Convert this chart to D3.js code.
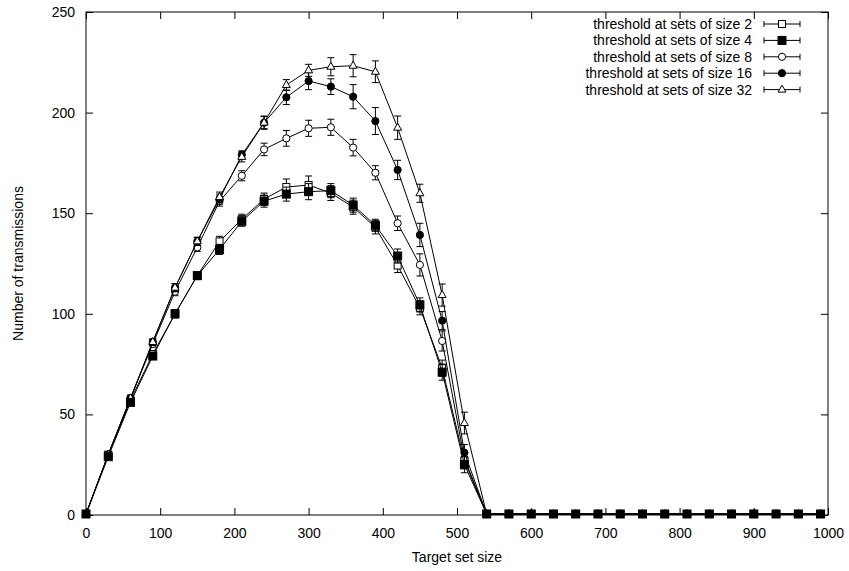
<!DOCTYPE html>
<html>
<head>
<meta charset="utf-8">
<script src="https://cdn.jsdelivr.net/npm/d3@7"></script>
<style>
  body { margin: 0; background: #fff; }
  text { font-family: "Liberation Sans", Arial, sans-serif; }
</style>
</head>
<body>
<div id="chart-area"></div>
<script>
// target set sizes (x)
var targetSizes = [0, 30, 60, 90, 120, 150, 180, 210, 240, 270, 300, 330, 360, 390, 420, 450, 480, 510,
    540, 570, 600, 630, 660, 690, 720, 750, 780, 810, 840, 870, 900, 930, 960, 990];

// mean number of transmissions for each threshold
var size2 = [0.5, 30, 57, 80, 100, 119, 136, 147, 157, 163, 164, 160, 153, 143, 124, 103, 73, 27,
    0.5, 0.5, 0.5, 0.5, 0.5, 0.5, 0.5, 0.5, 0.5, 0.5, 0.5, 0.5, 0.5, 0.5, 0.5, 0.5];
var size4 = [0.5, 29, 56, 79, 100, 119, 132, 146, 156, 159.5, 160.7, 161.2, 154, 144, 128.7, 104.4, 71, 25,
    0.5, 0.5, 0.5, 0.5, 0.5, 0.5, 0.5, 0.5, 0.5, 0.5, 0.5, 0.5, 0.5, 0.5, 0.5, 0.5];
var size8 = [0.5, 30, 58, 85, 111, 133, 156, 168.6, 181.7, 187.2, 192.2, 192.7, 182.6, 170.1, 145, 124.3, 86.5, 28,
    0.5, 0.5, 0.5, 0.5, 0.5, 0.5, 0.5, 0.5, 0.5, 0.5, 0.5, 0.5, 0.5, 0.5, 0.5, 0.5];
var size16 = [0.5, 30, 58, 86, 113, 136, 157, 179, 195, 207.6, 215.7, 212.9, 207.9, 195.8, 171.5, 139.2, 96.6, 31,
    0.5, 0.5, 0.5, 0.5, 0.5, 0.5, 0.5, 0.5, 0.5, 0.5, 0.5, 0.5, 0.5, 0.5, 0.5, 0.5];
var size32 = [0.5, 30, 58, 86, 113, 136, 158, 178, 195, 213.7, 221, 222.8, 223.3, 220.3, 192.5, 159.9, 109.3, 45.7,
    0.5, 0.5, 0.5, 0.5, 0.5, 0.5, 0.5, 0.5, 0.5, 0.5, 0.5, 0.5, 0.5, 0.5, 0.5, 0.5];

// error bar half lengths
var err2 = [0, 1, 1.5, 1.5, 2, 2, 2.5, 2.5, 3, 4, 4.5, 3.7, 3.5, 3.3, 3.5, 3.5, 4, 4,
    0, 0, 0, 0, 0, 0, 0, 0, 0, 0, 0, 0, 0, 0, 0, 0];
var err4 = [0, 1, 1.5, 1.5, 2, 2, 2.5, 2.5, 3, 3.5, 4, 3.5, 3.5, 3, 3.5, 3.5, 4, 4,
    0, 0, 0, 0, 0, 0, 0, 0, 0, 0, 0, 0, 0, 0, 0, 0];
var err8 = [0, 1, 1.5, 1.5, 2, 2, 2.5, 2.5, 3.1, 3.9, 4, 4, 4.1, 3.5, 3.6, 5.5, 5, 4,
    0, 0, 0, 0, 0, 0, 0, 0, 0, 0, 0, 0, 0, 0, 0, 0];
var err16 = [0, 1, 1.5, 1.5, 2, 2, 2.5, 2, 3.3, 3.6, 4.3, 3.9, 6, 6.7, 4.8, 5.8, 4.5, 4,
    0, 0, 0, 0, 0, 0, 0, 0, 0, 0, 0, 0, 0, 0, 0, 0];
var err32 = [0, 1, 1.5, 1.5, 2, 2, 2.5, 2.5, 3, 2.7, 3, 4.5, 5.5, 5.4, 5.8, 4.5, 5.5, 5.4,
    0, 0, 0, 0, 0, 0, 0, 0, 0, 0, 0, 0, 0, 0, 0, 0];

var seriesNames = ["threshold at sets of size 2", "threshold at sets of size 4",
    "threshold at sets of size 8", "threshold at sets of size 16", "threshold at sets of size 32"];
var seriesMarkers = ["squareOpen", "squareFilled", "circleOpen", "circleFilled", "triangleOpen"];

var xTicks = [0, 100, 200, 300, 400, 500, 600, 700, 800, 900, 1000];
var yTicks = [0, 50, 100, 150, 200, 250];

var margin = { left: 86, right: 21, top: 12, bottom: 56 };
var width = 849 - margin.left - margin.right,
    height = 571 - margin.top - margin.bottom;

var svg = d3.select("#chart-area")
    .append("svg")
        .attr("width", 849)
        .attr("height", 571);

var g = svg.append("g")
    .attr("transform", "translate(" + margin.left + ", " + margin.top + ")");

var xScale = d3.scaleLinear().domain([0, 1000]).range([0, width]);
var yScale = d3.scaleLinear().domain([0, 250]).range([height, 0]);

// axes, ticks pointing inward on all four sides
function styleAxis(sel) {
    sel.select(".domain").remove();
    sel.selectAll(".tick line").attr("stroke", "#000");
    sel.selectAll(".tick text")
        .attr("fill", "#000")
        .attr("font-size", "14px")
        .attr("font-family", "Liberation Sans, Arial, sans-serif");
}

g.append("g")
    .attr("transform", "translate(0, " + height + ")")
    .call(d3.axisBottom(xScale).tickValues(xTicks).tickSizeInner(-7).tickSizeOuter(0)
        .tickPadding(13).tickFormat(d3.format("d")))
    .call(styleAxis);
g.append("g")
    .call(d3.axisTop(xScale).tickValues(xTicks).tickSizeInner(-7).tickSizeOuter(0).tickFormat(""))
    .call(styleAxis);
g.append("g")
    .call(d3.axisLeft(yScale).tickValues(yTicks).tickSizeInner(-7).tickSizeOuter(0)
        .tickPadding(11).tickFormat(d3.format("d")))
    .call(styleAxis);
g.append("g")
    .attr("transform", "translate(" + width + ", 0)")
    .call(d3.axisRight(yScale).tickValues(yTicks).tickSizeInner(-7).tickSizeOuter(0).tickFormat(""))
    .call(styleAxis);

g.append("rect")
    .attr("x", 0).attr("y", 0)
    .attr("width", width).attr("height", height)
    .attr("fill", "none")
    .attr("stroke", "#000")
    .attr("stroke-width", 1);

// axis titles
g.append("text")
    .attr("x", width / 2)
    .attr("y", height + 47)
    .attr("font-size", "14px")
    .attr("text-anchor", "middle")
    .text("Target set size");

g.append("text")
    .attr("x", -(height / 2))
    .attr("y", -63)
    .attr("font-size", "14px")
    .attr("text-anchor", "middle")
    .attr("transform", "rotate(-90)")
    .text("Number of transmissions");

// markers
function drawMarker(sel, type) {
    if (type == "squareOpen" || type == "squareFilled") {
        var s = type == "squareOpen" ? 7 : 8;
        sel.append("rect")
            .attr("x", -s / 2).attr("y", -s / 2)
            .attr("width", s).attr("height", s)
            .attr("fill", type == "squareOpen" ? "#fff" : "#000")
            .attr("stroke", "#000");
    } else if (type == "circleOpen" || type == "circleFilled") {
        sel.append("circle")
            .attr("r", 3.6)
            .attr("fill", type == "circleOpen" ? "#fff" : "#000")
            .attr("stroke", "#000");
    } else {
        sel.append("path")
            .attr("d", "M0,-4.5L4,2.5L-4,2.5Z")
            .attr("fill", "#fff")
            .attr("stroke", "#000");
    }
}

var allMeans = [size2, size4, size8, size16, size32];
var allErrs = [err2, err4, err8, err16, err32];
// size 4 (filled squares) ends up on top, as in the original
var drawOrder = [0, 2, 3, 4, 1];

var line = d3.line()
    .x(function(d) { return xScale(d.x); })
    .y(function(d) { return yScale(d.y); });

drawOrder.forEach(function(i) {
    var means = allMeans[i];
    var data = targetSizes.map(function(x, j) {
        return { x: x, y: means[j], e: allErrs[i][j] };
    });
    var sg = g.append("g").attr("class", "series-" + i);

    sg.append("path")
        .attr("d", line(data))
        .attr("fill", "none")
        .attr("stroke", "#000")
        .attr("stroke-width", 1);

    var bars = sg.selectAll(".err")
        .data(data)
        .enter()
        .append("g")
            .attr("class", "err")
            .attr("stroke", "#000")
            .attr("stroke-width", 1);
    bars.append("line")
        .attr("x1", function(d) { return xScale(d.x); })
        .attr("x2", function(d) { return xScale(d.x); })
        .attr("y1", function(d) { return yScale(d.y - d.e); })
        .attr("y2", function(d) { return yScale(d.y + d.e); });
    bars.append("line")
        .attr("x1", function(d) { return xScale(d.x) - 3.5; })
        .attr("x2", function(d) { return xScale(d.x) + 3.5; })
        .attr("y1", function(d) { return yScale(d.y - d.e); })
        .attr("y2", function(d) { return yScale(d.y - d.e); });
    bars.append("line")
        .attr("x1", function(d) { return xScale(d.x) - 3.5; })
        .attr("x2", function(d) { return xScale(d.x) + 3.5; })
        .attr("y1", function(d) { return yScale(d.y + d.e); })
        .attr("y2", function(d) { return yScale(d.y + d.e); });

    sg.selectAll(".pt")
        .data(data)
        .enter()
        .append("g")
            .attr("class", "pt")
            .attr("transform", function(d) {
                return "translate(" + xScale(d.x) + "," + yScale(d.y) + ")";
            })
            .each(function() { drawMarker(d3.select(this), seriesMarkers[i]); });
});

// legend
var legend = g.append("g").attr("transform", "translate(0, 0)");
seriesNames.forEach(function(name, i) {
    var ly = 12 + i * 16.4;
    var lg = legend.append("g").attr("transform", "translate(0, " + ly + ")");
    lg.append("text")
        .attr("x", 666)
        .attr("y", 5)
        .attr("font-size", "14px")
        .attr("text-anchor", "end")
        .text(name);
    lg.append("line")
        .attr("x1", 678).attr("x2", 714)
        .attr("y1", 0).attr("y2", 0)
        .attr("stroke", "#000");
    lg.append("line")
        .attr("x1", 678).attr("x2", 678)
        .attr("y1", -3).attr("y2", 3)
        .attr("stroke", "#000");
    lg.append("line")
        .attr("x1", 714).attr("x2", 714)
        .attr("y1", -3).attr("y2", 3)
        .attr("stroke", "#000");
    var mk = lg.append("g").attr("transform", "translate(696, 0)");
    drawMarker(mk, seriesMarkers[i]);
});
</script>
</body>
</html>
